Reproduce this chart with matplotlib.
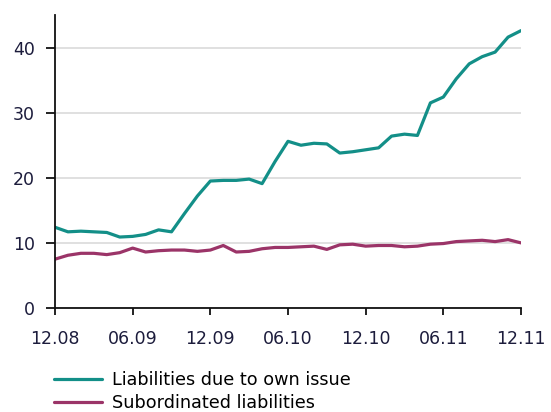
import matplotlib
matplotlib.use("Agg")
import matplotlib.pyplot as plt

# monthly values, 12.08 .. 12.11
months = list(range(37))
tick_pos = [0, 6, 12, 18, 24, 30, 36]
tick_labels = ["12.08", "06.09", "12.09", "06.10", "12.10", "06.11", "12.11"]

own_issue = [12.4, 11.7, 11.8, 11.7, 11.6, 10.9, 11.0, 11.3, 12.0, 11.7,
             14.5, 17.2, 19.5, 19.6, 19.6, 19.8, 19.1, 22.5, 25.6, 25.0,
             25.3, 25.2, 23.8, 24.0, 24.3, 24.6, 26.4, 26.7, 26.5, 31.5,
             32.4, 35.2, 37.5, 38.6, 39.3, 41.6, 42.6]
subordinated = [7.5, 8.1, 8.4, 8.4, 8.2, 8.5, 9.2, 8.6, 8.8, 8.9,
                8.9, 8.7, 8.9, 9.6, 8.6, 8.7, 9.1, 9.3, 9.3, 9.4,
                9.5, 9.0, 9.7, 9.8, 9.5, 9.6, 9.6, 9.4, 9.5, 9.8,
                9.9, 10.2, 10.3, 10.4, 10.2, 10.5, 10.0]

teal = "#138f88"
plum = "#9b3468"
txt = "#1c1c3c"

fig = plt.figure(figsize=(5.51, 4.12), dpi=100)
ax = fig.add_axes([55 / 551, 104 / 412, 466 / 551, 293 / 412])

ax.plot(months, own_issue, color=teal, lw=2.3, label="Liabilities due to own issue",
        solid_joinstyle="round", solid_capstyle="round")
ax.plot(months, subordinated, color=plum, lw=2.3, label="Subordinated liabilities",
        solid_joinstyle="round", solid_capstyle="round")

ax.set_xlim(0, 36)
ax.set_ylim(0, 45)
ax.set_yticks([0, 10, 20, 30, 40])
ax.set_xticks(tick_pos)
ax.set_xticklabels(tick_labels)
ax.grid(axis="y", color="#dadada", lw=1.2)
ax.set_axisbelow(True)

for s in ["top", "right"]:
    ax.spines[s].set_visible(False)
for s in ["left", "bottom"]:
    ax.spines[s].set_color("#111111")
    ax.spines[s].set_linewidth(1.3)
ax.tick_params(axis="both", direction="out", width=1.3, color="#111111",
               labelsize=12.5, labelcolor=txt)
ax.tick_params(axis="x", length=5, pad=11)
ax.tick_params(axis="y", length=6.5, pad=8)

fig.legend(loc="upper left", bbox_to_anchor=(47 / 551, 1 - 364 / 412), frameon=False,
           fontsize=12.7, handlelength=2.7, handletextpad=0.6, labelspacing=0.3,
           borderaxespad=0)

fig.savefig("out.png", dpi=100)
